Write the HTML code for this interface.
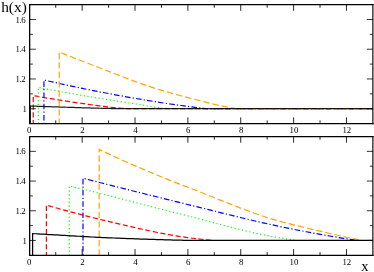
<!DOCTYPE html>
<html>
<head>
<meta charset="utf-8">
<title>h(x)</title>
<style>
html,body{margin:0;padding:0;background:#fff;}
body{width:374px;height:272px;overflow:hidden;}
svg{display:block;position:absolute;left:0;top:0;}
#labels{opacity:0.999;will-change:transform;}
text{font-family:"Liberation Serif",serif;fill:#000;}
.tl{font-size:8.8px;}
.yl{letter-spacing:-0.45px;}
.big{font-size:14.5px;}
.hx{font-size:13.7px;}
</style>
</head>
<body>
<svg width="374" height="272" viewBox="0 0 374 272">
<rect x="0" y="0" width="374" height="272" fill="#ffffff"/>
<g id="top">
<path d="M33.25 123.60 L33.25 95.60 L34.82 95.89 L36.39 96.17 L37.97 96.46 L39.54 96.74 L41.11 97.01 L42.68 97.29 L44.25 97.56 L45.83 97.83 L47.40 98.10 L48.97 98.37 L50.54 98.63 L52.11 98.89 L53.69 99.15 L55.26 99.41 L56.83 99.67 L58.40 99.92 L59.97 100.17 L61.55 100.42 L63.12 100.66 L64.69 100.91 L66.26 101.15 L67.83 101.39 L69.41 101.63 L70.98 101.86 L72.55 102.10 L74.12 102.33 L75.69 102.56 L77.27 102.79 L78.84 103.02 L80.41 103.24 L81.98 103.46 L83.56 103.69 L85.13 103.90 L86.70 104.12 L88.27 104.34 L89.84 104.55 L91.42 104.77 L92.99 104.98 L94.56 105.19 L96.13 105.39 L97.70 105.60 L99.28 105.81 L100.85 106.01 L102.42 106.21 L103.99 106.42 L105.56 106.62 L107.14 106.81 L108.71 107.01 L110.28 107.19 L111.85 107.37 L113.42 107.55 L115.00 107.71 L116.57 107.87 L118.14 108.01 L119.71 108.15 L121.28 108.27 L122.86 108.39 L124.43 108.50 L126.00 108.60 L373.00 108.60" fill="none" stroke="#ff0000" stroke-width="1.2" stroke-dasharray="5.1 2.6" stroke-dashoffset="1.50" stroke-linejoin="miter"/>
<path d="M38.30 123.60 L38.30 87.40 L40.53 87.83 L42.76 88.25 L45.00 88.68 L47.23 89.10 L49.46 89.52 L51.69 89.93 L53.93 90.35 L56.16 90.76 L58.39 91.17 L60.62 91.58 L62.85 91.98 L65.09 92.38 L67.32 92.78 L69.55 93.18 L71.78 93.58 L74.02 93.97 L76.25 94.36 L78.48 94.75 L80.71 95.14 L82.94 95.53 L85.18 95.91 L87.41 96.29 L89.64 96.67 L91.87 97.05 L94.11 97.42 L96.34 97.79 L98.57 98.16 L100.80 98.53 L103.03 98.90 L105.27 99.25 L107.50 99.61 L109.73 99.95 L111.96 100.30 L114.19 100.64 L116.43 100.98 L118.66 101.32 L120.89 101.66 L123.12 101.99 L125.36 102.33 L127.59 102.67 L129.82 103.01 L132.05 103.35 L134.28 103.70 L136.52 104.05 L138.75 104.40 L140.98 104.76 L143.21 105.15 L145.45 105.56 L147.68 105.98 L149.91 106.40 L152.14 106.80 L154.37 107.17 L156.61 107.50 L158.84 107.78 L161.07 108.00 L163.30 108.19 L165.54 108.36 L167.77 108.50 L170.00 108.60 L373.00 108.60" fill="none" stroke="#00ff00" stroke-width="1.2" stroke-dasharray="1.15 2.6" stroke-dashoffset="0.05" stroke-linejoin="miter"/>
<path d="M43.95 123.60 L43.95 80.00 L46.70 80.63 L49.44 81.26 L52.19 81.88 L54.94 82.50 L57.68 83.11 L60.43 83.72 L63.18 84.32 L65.92 84.92 L68.67 85.51 L71.42 86.10 L74.16 86.69 L76.91 87.27 L79.66 87.84 L82.40 88.41 L85.15 88.97 L87.90 89.52 L90.64 90.07 L93.39 90.62 L96.14 91.15 L98.88 91.69 L101.63 92.21 L104.38 92.73 L107.12 93.25 L109.87 93.77 L112.62 94.29 L115.36 94.80 L118.11 95.30 L120.86 95.81 L123.60 96.31 L126.35 96.80 L129.09 97.29 L131.84 97.78 L134.59 98.26 L137.33 98.74 L140.08 99.21 L142.83 99.67 L145.57 100.13 L148.32 100.59 L151.07 101.03 L153.81 101.48 L156.56 101.91 L159.31 102.34 L162.05 102.76 L164.80 103.17 L167.55 103.58 L170.29 103.98 L173.04 104.37 L175.79 104.76 L178.53 105.14 L181.28 105.51 L184.03 105.88 L186.77 106.24 L189.52 106.60 L192.27 106.95 L195.01 107.29 L197.76 107.62 L200.51 107.96 L203.25 108.28 L206.00 108.60 L373.00 108.60" fill="none" stroke="#0000ff" stroke-width="1.2" stroke-dasharray="5.6 2.2 1.2 2.2" stroke-dashoffset="8.10" stroke-linejoin="miter"/>
<path d="M59.20 123.60 L59.20 52.00 L62.20 53.19 L65.19 54.38 L68.19 55.57 L71.19 56.76 L74.18 57.94 L77.18 59.12 L80.18 60.29 L83.17 61.47 L86.17 62.64 L89.17 63.81 L92.16 64.97 L95.16 66.14 L98.16 67.30 L101.15 68.46 L104.15 69.61 L107.15 70.76 L110.14 71.92 L113.14 73.08 L116.14 74.26 L119.13 75.43 L122.13 76.60 L125.13 77.76 L128.12 78.91 L131.12 80.05 L134.12 81.17 L137.11 82.27 L140.11 83.35 L143.11 84.39 L146.10 85.41 L149.10 86.40 L152.09 87.37 L155.09 88.31 L158.09 89.24 L161.08 90.15 L164.08 91.04 L167.08 91.92 L170.07 92.79 L173.07 93.63 L176.07 94.47 L179.06 95.28 L182.06 96.09 L185.06 96.89 L188.05 97.68 L191.05 98.46 L194.05 99.24 L197.04 100.01 L200.04 100.79 L203.04 101.56 L206.03 102.33 L209.03 103.09 L212.03 103.83 L215.02 104.53 L218.02 105.20 L221.02 105.83 L224.01 106.43 L227.01 107.01 L230.01 107.57 L233.00 108.10 L236.00 108.60 L373.00 108.60" fill="none" stroke="#ffa500" stroke-width="1.2" stroke-dasharray="6.4 3.0" stroke-dashoffset="1.40" stroke-linejoin="miter"/>
<path d="M30.30 123.60 L30.30 106.00 L31.75 106.05 L33.21 106.11 L34.66 106.16 L36.11 106.21 L37.56 106.26 L39.02 106.31 L40.47 106.36 L41.92 106.42 L43.37 106.47 L44.83 106.52 L46.28 106.57 L47.73 106.62 L49.18 106.67 L50.64 106.72 L52.09 106.77 L53.54 106.82 L54.99 106.87 L56.45 106.92 L57.90 106.96 L59.35 107.01 L60.80 107.06 L62.26 107.11 L63.71 107.16 L65.16 107.20 L66.61 107.25 L68.07 107.30 L69.52 107.35 L70.97 107.40 L72.42 107.45 L73.88 107.49 L75.33 107.54 L76.78 107.59 L78.23 107.63 L79.69 107.68 L81.14 107.73 L82.59 107.77 L84.04 107.82 L85.50 107.86 L86.95 107.90 L88.40 107.95 L89.85 107.99 L91.31 108.03 L92.76 108.07 L94.21 108.11 L95.66 108.14 L97.12 108.18 L98.57 108.22 L100.02 108.25 L101.47 108.29 L102.93 108.32 L104.38 108.35 L105.83 108.39 L107.28 108.42 L108.74 108.45 L110.19 108.48 L111.64 108.51 L113.09 108.54 L114.55 108.57 L116.00 108.60 L373.00 108.60" fill="none" stroke="#000000" stroke-width="1.25" opacity="0.87" stroke-linejoin="miter"/>
<path d="M55.73 123.60 v-3.20 M55.73 4.60 v3.20 M82.16 123.60 v-6.20 M82.16 4.60 v6.20 M108.59 123.60 v-3.20 M108.59 4.60 v3.20 M135.02 123.60 v-6.20 M135.02 4.60 v6.20 M161.45 123.60 v-3.20 M161.45 4.60 v3.20 M187.88 123.60 v-6.20 M187.88 4.60 v6.20 M214.31 123.60 v-3.20 M214.31 4.60 v3.20 M240.74 123.60 v-6.20 M240.74 4.60 v6.20 M267.17 123.60 v-3.20 M267.17 4.60 v3.20 M293.60 123.60 v-6.20 M293.60 4.60 v6.20 M320.03 123.60 v-3.20 M320.03 4.60 v3.20 M346.46 123.60 v-6.20 M346.46 4.60 v6.20" fill="none" stroke="#000" stroke-width="0.85"/>
<path d="M29.65 108.72 h6.20 M373.00 108.72 h-6.20 M29.65 93.85 h3.20 M373.00 93.85 h-3.20 M29.65 78.97 h6.20 M373.00 78.97 h-6.20 M29.65 64.10 h3.20 M373.00 64.10 h-3.20 M29.65 49.23 h6.20 M373.00 49.23 h-6.20 M29.65 34.35 h3.20 M373.00 34.35 h-3.20 M29.65 19.47 h6.20 M373.00 19.47 h-6.20" fill="none" stroke="#000" stroke-width="0.8"/>
<path d="M373.00 4.60 H29.65 V123.60 H373.00" fill="none" stroke="#000" stroke-width="1.3" stroke-linecap="square"/>
<path d="M372.88 3.95 V124.25" fill="none" stroke="#000" stroke-width="1.15"/>
</g>
<g id="bottom">
<path d="M46.40 255.30 L46.40 205.10 L49.22 205.91 L52.04 206.71 L54.86 207.50 L57.67 208.29 L60.49 209.08 L63.31 209.85 L66.13 210.62 L68.95 211.39 L71.77 212.15 L74.59 212.90 L77.41 213.65 L80.22 214.39 L83.04 215.12 L85.86 215.85 L88.68 216.57 L91.50 217.28 L94.32 217.99 L97.14 218.69 L99.95 219.38 L102.77 220.07 L105.59 220.75 L108.41 221.43 L111.23 222.09 L114.05 222.76 L116.87 223.41 L119.68 224.06 L122.50 224.70 L125.32 225.36 L128.14 226.01 L130.96 226.66 L133.78 227.30 L136.60 227.95 L139.42 228.59 L142.23 229.22 L145.05 229.85 L147.87 230.47 L150.69 231.08 L153.51 231.68 L156.33 232.26 L159.15 232.83 L161.96 233.39 L164.78 233.93 L167.60 234.45 L170.42 234.95 L173.24 235.44 L176.06 235.90 L178.88 236.33 L181.69 236.75 L184.51 237.15 L187.33 237.54 L190.15 237.91 L192.97 238.27 L195.79 238.62 L198.61 238.95 L201.43 239.27 L204.24 239.58 L207.06 239.87 L209.88 240.14 L212.70 240.40" fill="none" stroke="#ff0000" stroke-width="1.2" stroke-dasharray="5.1 2.6" stroke-dashoffset="1.80" stroke-linejoin="miter"/>
<path d="M69.30 255.30 L69.30 186.00 L73.17 186.92 L77.05 187.84 L80.92 188.76 L84.79 189.69 L88.66 190.63 L92.54 191.58 L96.41 192.53 L100.28 193.49 L104.16 194.47 L108.03 195.45 L111.90 196.44 L115.77 197.43 L119.65 198.43 L123.52 199.44 L127.39 200.44 L131.27 201.45 L135.14 202.46 L139.01 203.47 L142.88 204.47 L146.76 205.48 L150.63 206.47 L154.50 207.47 L158.38 208.45 L162.25 209.43 L166.12 210.41 L169.99 211.39 L173.87 212.37 L177.74 213.34 L181.61 214.30 L185.49 215.29 L189.36 216.29 L193.23 217.30 L197.11 218.32 L200.98 219.35 L204.85 220.38 L208.72 221.42 L212.60 222.46 L216.47 223.49 L220.34 224.52 L224.22 225.54 L228.09 226.55 L231.96 227.55 L235.83 228.53 L239.71 229.50 L243.58 230.44 L247.45 231.37 L251.33 232.26 L255.20 233.13 L259.07 233.96 L262.94 234.77 L266.82 235.53 L270.69 236.26 L274.56 236.95 L278.44 237.60 L282.31 238.21 L286.18 238.80 L290.05 239.35 L293.93 239.89 L297.80 240.40" fill="none" stroke="#00ff00" stroke-width="1.2" stroke-dasharray="1.15 2.6" stroke-dashoffset="0.10" stroke-linejoin="miter"/>
<path d="M83.00 255.30 L83.00 178.20 L87.65 179.41 L92.31 180.61 L96.96 181.80 L101.61 182.99 L106.26 184.17 L110.92 185.35 L115.57 186.53 L120.22 187.70 L124.87 188.87 L129.53 190.04 L134.18 191.21 L138.83 192.38 L143.48 193.54 L148.14 194.70 L152.79 195.86 L157.44 197.02 L162.09 198.17 L166.75 199.32 L171.40 200.48 L176.05 201.63 L180.70 202.77 L185.36 203.91 L190.01 205.05 L194.66 206.18 L199.31 207.33 L203.97 208.49 L208.62 209.65 L213.27 210.81 L217.92 211.97 L222.58 213.13 L227.23 214.29 L231.88 215.44 L236.53 216.58 L241.19 217.71 L245.84 218.83 L250.49 219.94 L255.14 221.03 L259.80 222.10 L264.45 223.15 L269.10 224.17 L273.75 225.18 L278.41 226.16 L283.06 227.13 L287.71 228.09 L292.36 229.04 L297.02 229.97 L301.67 230.88 L306.32 231.78 L310.97 232.66 L315.63 233.52 L320.28 234.37 L324.93 235.19 L329.58 236.00 L334.24 236.78 L338.89 237.54 L343.54 238.29 L348.19 239.01 L352.85 239.71 L357.50 240.40" fill="none" stroke="#0000ff" stroke-width="1.2" stroke-dasharray="5.6 2.2 1.2 2.2" stroke-dashoffset="7.50" stroke-linejoin="miter"/>
<path d="M99.15 255.30 L99.15 149.40 L103.59 151.52 L108.03 153.60 L112.46 155.66 L116.90 157.70 L121.34 159.70 L125.78 161.69 L130.22 163.64 L134.66 165.58 L139.09 167.49 L143.53 169.39 L147.97 171.26 L152.41 173.12 L156.85 174.96 L161.28 176.78 L165.72 178.58 L170.16 180.37 L174.60 182.15 L179.04 183.92 L183.47 185.64 L187.91 187.29 L192.35 188.98 L196.79 190.69 L201.23 192.44 L205.67 194.20 L210.10 195.98 L214.54 197.77 L218.98 199.57 L223.42 201.35 L227.86 203.13 L232.29 204.90 L236.73 206.64 L241.17 208.35 L245.61 210.03 L250.05 211.68 L254.48 213.27 L258.92 214.81 L263.36 216.30 L267.80 217.72 L272.24 219.07 L276.68 220.36 L281.11 221.60 L285.55 222.79 L289.99 223.94 L294.43 225.06 L298.87 226.15 L303.30 227.22 L307.74 228.27 L312.18 229.31 L316.62 230.34 L321.06 231.38 L325.49 232.42 L329.93 233.46 L334.37 234.49 L338.81 235.50 L343.25 236.51 L347.69 237.50 L352.12 238.48 L356.56 239.44 L361.00 240.40" fill="none" stroke="#ffa500" stroke-width="1.2" stroke-dasharray="6.4 3.0" stroke-dashoffset="0.50" stroke-linejoin="miter"/>
<path d="M32.60 255.30 L32.60 233.60 L35.30 233.75 L38.00 233.90 L40.71 234.05 L43.41 234.21 L46.11 234.36 L48.81 234.51 L51.51 234.66 L54.21 234.81 L56.92 234.97 L59.62 235.12 L62.32 235.28 L65.02 235.44 L67.72 235.60 L70.42 235.76 L73.13 235.93 L75.83 236.09 L78.53 236.25 L81.23 236.40 L83.93 236.56 L86.63 236.71 L89.34 236.86 L92.04 237.00 L94.74 237.14 L97.44 237.28 L100.14 237.41 L102.84 237.53 L105.55 237.65 L108.25 237.77 L110.95 237.89 L113.65 238.00 L116.35 238.11 L119.05 238.22 L121.76 238.33 L124.46 238.43 L127.16 238.54 L129.86 238.64 L132.56 238.74 L135.26 238.83 L137.97 238.93 L140.67 239.02 L143.37 239.12 L146.07 239.21 L148.77 239.30 L151.47 239.40 L154.18 239.48 L156.88 239.57 L159.58 239.66 L162.28 239.74 L164.98 239.82 L167.68 239.89 L170.39 239.96 L173.09 240.03 L175.79 240.09 L178.49 240.15 L181.19 240.20 L183.89 240.26 L186.60 240.31 L189.30 240.36 L192.00 240.40 L373.00 240.40" fill="none" stroke="#000000" stroke-width="1.25" stroke-linejoin="miter"/>
<path d="M55.73 255.30 v-3.20 M55.73 136.50 v3.20 M82.16 255.30 v-6.20 M82.16 136.50 v6.20 M108.59 255.30 v-3.20 M108.59 136.50 v3.20 M135.02 255.30 v-6.20 M135.02 136.50 v6.20 M161.45 255.30 v-3.20 M161.45 136.50 v3.20 M187.88 255.30 v-6.20 M187.88 136.50 v6.20 M214.31 255.30 v-3.20 M214.31 136.50 v3.20 M240.74 255.30 v-6.20 M240.74 136.50 v6.20 M267.17 255.30 v-3.20 M267.17 136.50 v3.20 M293.60 255.30 v-6.20 M293.60 136.50 v6.20 M320.03 255.30 v-3.20 M320.03 136.50 v3.20 M346.46 255.30 v-6.20 M346.46 136.50 v6.20" fill="none" stroke="#000" stroke-width="0.85"/>
<path d="M29.65 240.45 h6.20 M373.00 240.45 h-6.20 M29.65 225.60 h3.20 M373.00 225.60 h-3.20 M29.65 210.75 h6.20 M373.00 210.75 h-6.20 M29.65 195.90 h3.20 M373.00 195.90 h-3.20 M29.65 181.05 h6.20 M373.00 181.05 h-6.20 M29.65 166.20 h3.20 M373.00 166.20 h-3.20 M29.65 151.35 h6.20 M373.00 151.35 h-6.20" fill="none" stroke="#000" stroke-width="0.8"/>
<path d="M373.00 136.70 H29.65 V255.40 H373.00" fill="none" stroke="#000" stroke-width="1.3" stroke-linecap="square"/>
<path d="M372.88 136.05 V256.05" fill="none" stroke="#000" stroke-width="1.15"/>
</g>
</svg>
<svg id="labels" width="374" height="272" viewBox="0 0 374 272">
<text x="26.45" y="111.82" text-anchor="end" class="tl yl">1</text>
<text x="25.25" y="82.08" text-anchor="end" class="tl yl">1.2</text>
<text x="25.25" y="52.33" text-anchor="end" class="tl yl">1.4</text>
<text x="25.25" y="22.57" text-anchor="end" class="tl yl">1.6</text>
<text x="29.15" y="133.20" text-anchor="middle" class="tl">0</text>
<text x="82.51" y="133.20" text-anchor="middle" class="tl">2</text>
<text x="135.37" y="133.20" text-anchor="middle" class="tl">4</text>
<text x="188.23" y="133.20" text-anchor="middle" class="tl">6</text>
<text x="241.09" y="133.20" text-anchor="middle" class="tl">8</text>
<text x="293.95" y="133.20" text-anchor="middle" class="tl">10</text>
<text x="346.81" y="133.20" text-anchor="middle" class="tl">12</text>
<text x="26.45" y="243.55" text-anchor="end" class="tl yl">1</text>
<text x="25.25" y="213.85" text-anchor="end" class="tl yl">1.2</text>
<text x="25.25" y="184.15" text-anchor="end" class="tl yl">1.4</text>
<text x="25.25" y="154.45" text-anchor="end" class="tl yl">1.6</text>
<text x="29.15" y="264.90" text-anchor="middle" class="tl">0</text>
<text x="82.51" y="264.90" text-anchor="middle" class="tl">2</text>
<text x="135.37" y="264.90" text-anchor="middle" class="tl">4</text>
<text x="188.23" y="264.90" text-anchor="middle" class="tl">6</text>
<text x="241.09" y="264.90" text-anchor="middle" class="tl">8</text>
<text x="293.95" y="264.90" text-anchor="middle" class="tl">10</text>
<text x="346.81" y="264.90" text-anchor="middle" class="tl">12</text>
<text x="1.2" y="12.0" class="big hx" textLength="25.6" lengthAdjust="spacingAndGlyphs">h(x)</text>
<text x="361.3" y="271.2" class="big">x</text>
</svg>
</body>
</html>
